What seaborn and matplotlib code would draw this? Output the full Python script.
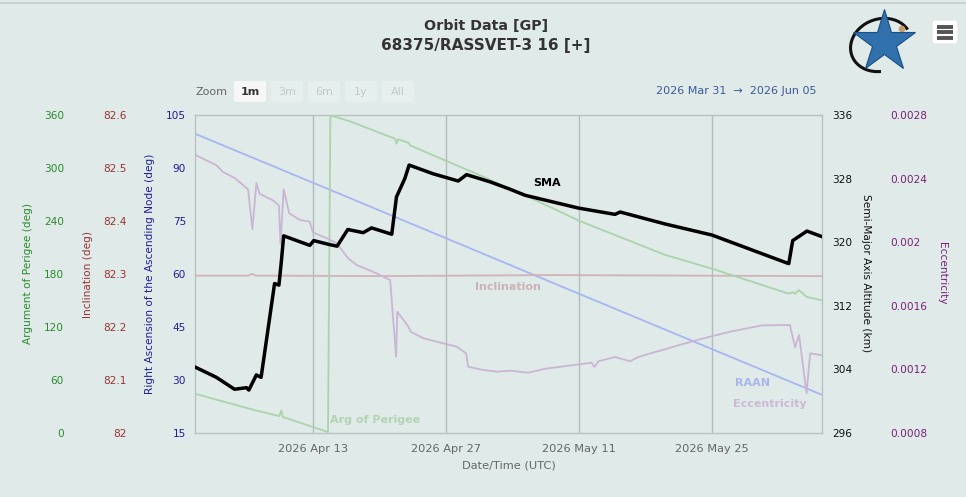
import numpy as np
import pandas as pd
import matplotlib
matplotlib.use("Agg")
import matplotlib.pyplot as plt
import matplotlib.dates as mdates
from matplotlib.patches import FancyBboxPatch, Arc, Circle
from matplotlib.ticker import FixedLocator, FuncFormatter
import seaborn as sns

# ---------------- data ----------------
x_range = ["2026-03-31 14:00", "2026-06-05 14:00"]
tick_dates = ["2026-04-13", "2026-04-27", "2026-05-11", "2026-05-25"]

sma_time = ["2026-03-31 14:00", "2026-04-02 20:00", "2026-04-04 18:00", "2026-04-06 00:00",
            "2026-04-06 06:00", "2026-04-07 01:00", "2026-04-07 13:00", "2026-04-08 23:00",
            "2026-04-09 10:00", "2026-04-09 16:00", "2026-04-09 22:00", "2026-04-12 16:00",
            "2026-04-13 02:00", "2026-04-14 18:00", "2026-04-15 13:00", "2026-04-16 16:00",
            "2026-04-18 07:00", "2026-04-19 04:00", "2026-04-21 07:00", "2026-04-21 19:00",
            "2026-04-22 16:00", "2026-04-23 03:00", "2026-04-25 16:00", "2026-04-28 07:00",
            "2026-04-29 04:00", "2026-05-01 15:00", "2026-05-03 16:00", "2026-05-05 08:00",
            "2026-05-10 22:00", "2026-05-14 19:00", "2026-05-15 08:00", "2026-05-20 01:00",
            "2026-05-25 00:00", "2026-06-02 02:00", "2026-06-02 12:00", "2026-06-02 18:00",
            "2026-06-04 00:00", "2026-06-05 14:00"]
sma_km = [304.3, 303.0, 301.5, 301.7, 301.4, 303.3, 303.0, 314.8, 314.6, 317.5,
          320.8, 319.6, 320.2, 319.7, 319.5, 321.6, 321.2, 321.8, 321.0, 325.7,
          328.0, 329.7, 328.6, 327.7, 328.5, 327.6, 326.7, 325.9, 324.3, 323.5,
          323.8, 322.3, 320.9, 317.3, 320.2, 320.4, 321.4, 320.7]

raan_time = ["2026-03-31 14:00", "2026-04-16 21:00", "2026-05-10 22:00", "2026-06-05 14:00"]
raan_deg = [99.7, 81.5, 54.5, 25.8]

inc_time = ["2026-03-31 14:00", "2026-04-06 04:00", "2026-04-06 14:00", "2026-04-07 00:00",
            "2026-04-20 00:00", "2026-05-08 00:00", "2026-05-22 00:00", "2026-06-05 14:00"]
inc_deg = [82.297, 82.297, 82.300, 82.297, 82.296, 82.298, 82.297, 82.296]

aop_time = ["2026-03-31 14:00", "2026-04-06 16:00", "2026-04-09 11:00", "2026-04-09 16:00",
            "2026-04-09 20:00", "2026-04-14 14:00", "2026-04-14 20:00", "2026-04-16 21:00",
            "2026-04-21 15:00", "2026-04-21 19:00", "2026-04-21 23:00", "2026-04-23 01:00",
            "2026-04-23 05:00", "2026-04-30 14:00", "2026-05-05 08:00", "2026-05-10 22:00",
            "2026-05-12 16:00", "2026-05-20 01:00", "2026-05-25 00:00", "2026-06-02 02:00",
            "2026-06-02 12:00", "2026-06-02 18:00", "2026-06-03 03:00", "2026-06-04 00:00",
            "2026-06-05 14:00"]
aop_deg = [44.5, 26.4, 19.2, 25.7, 18.1, 1.1, 359.7, 352.9, 333.2, 327.5,
           332.5, 328.6, 325.7, 291.7, 269.1, 240.8, 233.2, 201.8, 186.0, 157.7,
           159.5, 157.5, 161.9, 154.0, 150.2]

ecc_time = ["2026-03-31 14:00", "2026-04-02 20:00", "2026-04-03 13:00", "2026-04-04 18:00",
            "2026-04-06 04:00", "2026-04-06 15:00", "2026-04-07 01:00", "2026-04-07 09:00",
            "2026-04-08 19:00", "2026-04-09 10:00", "2026-04-09 14:00", "2026-04-09 22:00",
            "2026-04-10 12:00", "2026-04-11 15:00", "2026-04-12 16:00", "2026-04-13 00:00",
            "2026-04-13 09:00", "2026-04-14 11:00", "2026-04-15 12:00", "2026-04-16 17:00",
            "2026-04-17 14:00", "2026-04-19 17:00", "2026-04-21 03:00", "2026-04-21 18:00",
            "2026-04-21 21:00", "2026-04-23 01:00", "2026-04-23 07:00", "2026-04-24 15:00",
            "2026-04-26 17:00", "2026-04-28 03:00", "2026-04-29 03:00", "2026-04-29 08:00",
            "2026-04-30 22:00", "2026-05-02 08:00", "2026-05-03 18:00", "2026-05-05 16:00",
            "2026-05-07 10:00", "2026-05-10 06:00", "2026-05-12 08:00", "2026-05-12 15:00",
            "2026-05-13 01:00", "2026-05-14 19:00", "2026-05-16 09:00", "2026-05-17 06:00",
            "2026-05-19 00:00", "2026-05-20 01:00", "2026-05-21 12:00", "2026-05-23 23:00",
            "2026-05-26 18:00", "2026-05-30 06:00", "2026-06-02 05:00", "2026-06-02 18:00",
            "2026-06-03 04:00", "2026-06-03 23:00", "2026-06-04 08:00", "2026-06-05 14:00"]
ecc_val = [0.002550, 0.002484, 0.002441, 0.002404, 0.002333, 0.002081, 0.002372, 0.002305,
           0.002263, 0.002232, 0.001990, 0.002333, 0.002182, 0.002140, 0.002129, 0.002060,
           0.002052, 0.002025, 0.001993, 0.001899, 0.001857, 0.001804, 0.001762, 0.001280,
           0.001563, 0.001469, 0.001437, 0.001396, 0.001364, 0.001343, 0.001301, 0.001217,
           0.001196, 0.001186, 0.001192, 0.001179, 0.001204, 0.001226, 0.001242, 0.001215,
           0.001251, 0.001278, 0.001251, 0.001278, 0.001309, 0.001326, 0.001352, 0.001393,
           0.001435, 0.001477, 0.001479, 0.001339, 0.001416, 0.001050, 0.001301, 0.001289]

raan_ticks = [15, 30, 45, 60, 75, 90, 105]
inc_ticks = [82.0, 82.1, 82.2, 82.3, 82.4, 82.5, 82.6]
aop_ticks = [0, 60, 120, 180, 240, 300, 360]
sma_ticks = [296, 304, 312, 320, 328, 336]
ecc_ticks = [0.0008, 0.0012, 0.0016, 0.0020, 0.0024, 0.0028]

# ---------------- styling ----------------
sns.set_style("white")
plt.rcParams['font.family'] = ['DejaVu Sans']

W, H = 966, 497
BG = '#dfeae9'
fig = plt.figure(figsize=(W / 100, H / 100), dpi=100, facecolor=BG)

def fx(px):
    return px / W

def fy(py):
    return 1 - py / H

PX2PT = 0.72

# decoration layer
deco = fig.add_axes([0, 0, 1, 1], zorder=-5)
deco.set_xlim(0, W)
deco.set_ylim(H, 0)
deco.axis('off')
deco.plot([0, W], [2.5, 2.5], color='#c8cccc', lw=1.2)

# logo (star + orbit)
deco.add_patch(Arc((881, 45), 62, 52, angle=-20, theta1=110, theta2=350,
                   color='#111111', lw=2.2))
deco.plot([884], [42], marker='*', ms=47, color='#2f70ad', mec='#1c4f82', mew=0.8)
deco.add_patch(Circle((902, 29), 2.6, color='#c89a64'))
# menu icon
deco.add_patch(FancyBboxPatch((932, 20), 26, 24, boxstyle="round,pad=0,rounding_size=3",
                              fc='#ffffff', ec='#e4e4e4', lw=0.8))
for yy in (26.5, 32, 37.5):
    deco.plot([937, 953], [yy, yy], color='#555555', lw=2.8, solid_capstyle='butt')

# zoom buttons
deco.text(196, 92, "Zoom", ha='left', va='center', fontsize=8, color='#666666')
btns = ["1m", "3m", "6m", "1y", "All"]
for i, b in enumerate(btns):
    x0 = 234 + i * 37
    active = (i == 0)
    deco.add_patch(FancyBboxPatch((x0, 81), 32, 21, boxstyle="round,pad=0,rounding_size=2",
                                  fc='#f7f7f7' if active else '#e7efee', ec='none'))
    deco.text(x0 + 16, 92, b, ha='center', va='center', fontsize=8,
              color='#333333' if active else '#c4c8c8',
              fontweight='bold' if active else 'normal')
deco.text(816, 91, "2026 Mar 31  \u2192  2026 Jun 05", ha='right', va='center',
          fontsize=8, color='#3b5a98')

# title
fig.text(fx(486), fy(26), "Orbit Data [GP]", ha='center', va='center',
         fontsize=10.3, fontweight='bold', color='#333333')
fig.text(fx(486), fy(46), "68375/RASSVET-3 16 [+]", ha='center', va='center',
         fontsize=11, fontweight='bold', color='#333333')

# main plotting axes
ax = fig.add_axes([fx(195), fy(433), 627 / W, 318 / H], facecolor=BG)
ax_inc = ax.twinx()
ax_aop = ax.twinx()
ax_ecc = ax.twinx()
ax_sma = ax.twinx()

t_raan = pd.to_datetime(raan_time)
t_inc = pd.to_datetime(inc_time)
t_aop = pd.to_datetime(aop_time)
t_ecc = pd.to_datetime(ecc_time)
t_sma = pd.to_datetime(sma_time)

sns.lineplot(x=t_raan, y=raan_deg, ax=ax, color='#a7b6f2', lw=1.3, sort=False, estimator=None)
sns.lineplot(x=t_inc, y=inc_deg, ax=ax_inc, color='#d0b3b6', lw=1.3, sort=False, estimator=None)
sns.lineplot(x=t_aop, y=aop_deg, ax=ax_aop, color='#acd3ac', lw=1.3, sort=False, estimator=None)
sns.lineplot(x=t_ecc, y=ecc_val, ax=ax_ecc, color='#cab6d2', lw=1.3, sort=False, estimator=None)
sns.lineplot(x=t_sma, y=sma_km, ax=ax_sma, color='#000000', lw=2.5, sort=False, estimator=None)

xr = pd.to_datetime(x_range)
ax.set_xlim(xr[0], xr[1])
ax.xaxis.set_major_locator(FixedLocator(mdates.date2num(pd.to_datetime(tick_dates))))
ax.xaxis.set_major_formatter(mdates.DateFormatter("%Y %b %d"))
ax.tick_params(axis='x', length=7.2, width=1, color='#b2bcbc', labelsize=8.2,
               labelcolor='#666666', pad=0.6)
ax.grid(axis='x', color='#b2bcbc', lw=1)
ax.grid(axis='y', visible=False)
ax.set_axisbelow(True)
for s in ax.spines.values():
    s.set_color('#b8c2c2')
    s.set_linewidth(1)
ax.set_xlabel("Date/Time (UTC)", fontsize=8.2, color='#666666', labelpad=5)

fmt = FuncFormatter(lambda v, p: "%g" % round(v, 6))

def style_y(a, side, out_px, color, ticks, lim, hide_spines=True):
    a.set_ylim(lim)
    a.yaxis.set_major_locator(FixedLocator(ticks))
    a.yaxis.set_major_formatter(fmt)
    if hide_spines:
        for s in a.spines.values():
            s.set_visible(False)
    if side == 'left':
        a.yaxis.tick_left()
        a.spines['left'].set_position(('outward', out_px * PX2PT))
    else:
        a.yaxis.tick_right()
        a.spines['right'].set_position(('outward', out_px * PX2PT))
    a.tick_params(axis='y', length=0, pad=6.5, labelsize=7.6, labelcolor=color)
    a.set_ylabel("")

style_y(ax, 'left', 0, '#1e1e96', raan_ticks, (15, 105), hide_spines=False)
style_y(ax_inc, 'left', 59, '#9a3232', inc_ticks, (82.0, 82.6))
style_y(ax_aop, 'left', 122, '#2a8a2a', aop_ticks, (0, 360))
style_y(ax_sma, 'right', 1, '#111111', sma_ticks, (296, 336))
style_y(ax_ecc, 'right', 59, '#7a1f7a', ecc_ticks, (0.0008, 0.0028))
for a in (ax_inc, ax_aop, ax_ecc, ax_sma):
    a.grid(False)

# axis titles
fig.text(fx(28), fy(274), "Argument of Perigee (deg)", rotation=90, ha='center',
         va='center', fontsize=7.6, color='#2a8a2a')
fig.text(fx(88), fy(274), "Inclination (deg)", rotation=90, ha='center',
         va='center', fontsize=7.6, color='#9a3232')
fig.text(fx(150), fy(274), "Right Ascension of the Ascending Node (deg)", rotation=90,
         ha='center', va='center', fontsize=7.6, color='#1e1e96')
fig.text(fx(866), fy(273), "Semi-Major Axis Altitude (km)", rotation=270, ha='center',
         va='center', fontsize=7.6, color='#111111')
fig.text(fx(942), fy(273), "Eccentricity", rotation=270, ha='center',
         va='center', fontsize=7.6, color='#7a1f7a')

# in-plot series labels
fig.text(fx(547), fy(183), "SMA", ha='center', va='center', fontsize=8,
         fontweight='bold', color='#000000')
fig.text(fx(508), fy(287), "Inclination", ha='center', va='center', fontsize=8,
         fontweight='bold', color='#ccb3b7')
fig.text(fx(375), fy(420), "Arg of Perigee", ha='center', va='center', fontsize=8,
         fontweight='bold', color='#b3d4b3')
fig.text(fx(752), fy(383), "RAAN", ha='center', va='center', fontsize=8,
         fontweight='bold', color='#a9b5ec')
fig.text(fx(770), fy(404), "Eccentricity", ha='center', va='center', fontsize=8,
         fontweight='bold', color='#cdb9d6')

fig.savefig("out.png", dpi=100, facecolor=BG)
